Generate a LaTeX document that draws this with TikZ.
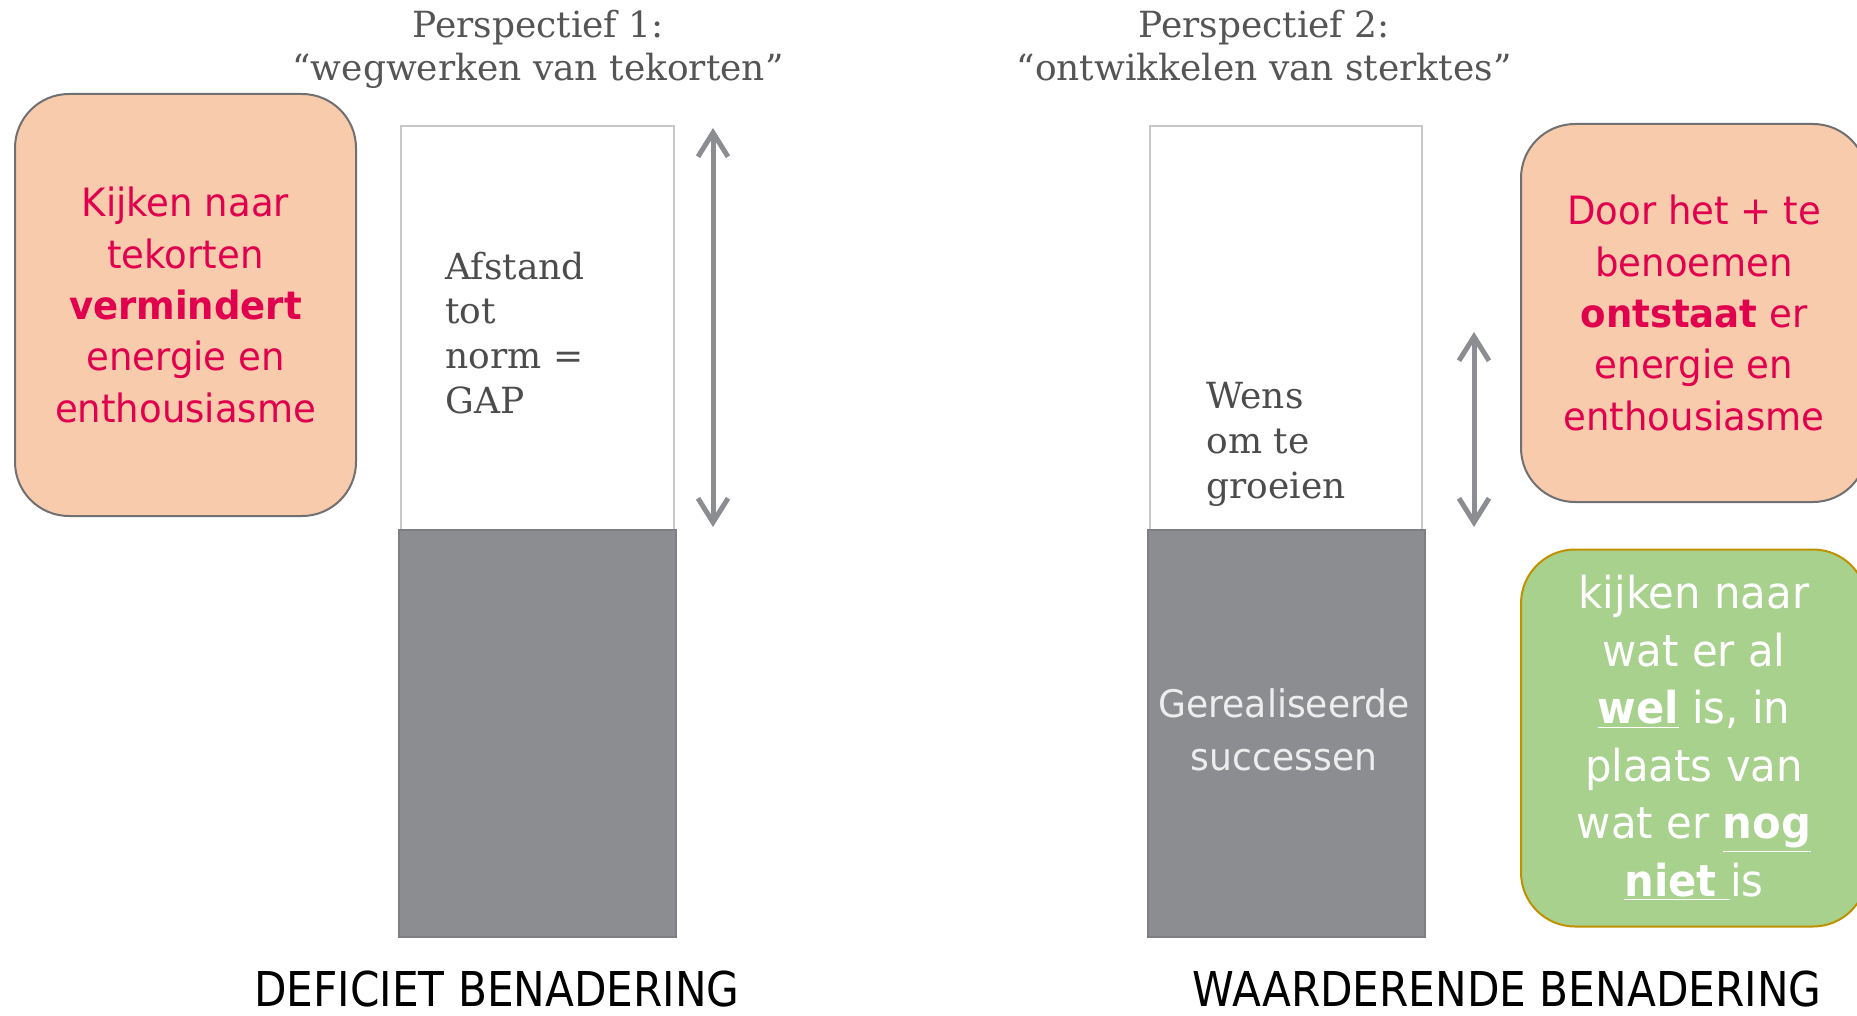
\documentclass[tikz,border=0pt]{standalone}
\usepackage{fontspec}
\usetikzlibrary{arrows.meta}
\newfontfamily\boxfont{DejaVu Sans}[FakeStretch=0.95]
\newfontfamily\labfont{DejaVu Sans}[FakeStretch=0.88]
\newfontfamily\serf{DejaVu Serif}
\definecolor{crim}{RGB}{224,0,77}
\definecolor{peach}{HTML}{F8CBAD}
\definecolor{boxline}{HTML}{707070}
\definecolor{greenfill}{HTML}{A9D18E}
\definecolor{greenline}{HTML}{BF9000}
\definecolor{bargray}{HTML}{8C8D91}
\definecolor{barline}{HTML}{7E7F83}
\definecolor{whiteline}{HTML}{C8C8C8}
\definecolor{titlegray}{HTML}{555555}
\tikzset{
  roundbox/.style={line width=1pt, rounded corners=27pt, align=center, inner sep=0pt},
  pbox/.style={roundbox, draw=boxline, fill=peach, text=crim,
    font=\boxfont\fontsize{19.5}{25.7}\selectfont},
  gbox/.style={roundbox, draw=greenline, fill=greenfill, text=white,
    font=\boxfont\fontsize{22}{28.8}\selectfont},
  whitebar/.style={draw=whiteline, line width=1pt, fill=white, inner sep=0pt},
  graybar/.style={draw=barline, line width=1pt, fill=bargray, inner sep=0pt},
  titletext/.style={text=titlegray, align=center, inner sep=0pt,
    font=\serf\fontsize{18}{21.5}\selectfont},
  bartext/.style={text=titlegray!90!black, align=left, inner sep=0pt,
    font=\serf\fontsize{18}{22.3}\selectfont},
  bottomlabel/.style={text=black, inner sep=0pt,
    font=\labfont\fontsize{24}{28}\selectfont},
  garrow/.style={draw=bargray, line width=2.5pt,
    {Straight Barb[length=12pt,width=15pt]}-{Straight Barb[length=12pt,width=15pt]}}
}
\begin{document}
\begin{tikzpicture}[x=0.5pt,y=-0.5pt]
\clip (0,0) rectangle (1857,1016);
\fill[white] (0,0) rectangle (1857,1016);

% titles (base anchor = baseline of last line)
\node[titletext, anchor=base] (t1) at (538,81) {Perspectief 1:\\“wegwerken van tekorten”};
\node[titletext, anchor=base] (t2) at (1264,81) {Perspectief 2:\\“ontwikkelen van sterktes”};

% left side
\node[pbox, minimum width=170.5pt, minimum height=211pt] (lbox) at (185.5,305)
  {Kijken naar\\tekorten\\\textbf{vermindert}\\energie en\\enthousiasme};
\node[whitebar, minimum width=136.5pt, minimum height=202pt] (wb1) at (537.5,328) {};
\node[graybar, minimum width=138.5pt, minimum height=203.5pt] (gb1) at (537.5,733.5) {};
\node[bartext, anchor=base west] (gap) at (445,413) {Afstand\\tot\\norm =\\GAP};
\coordinate (a1top) at (713,128);
\coordinate (a1bot) at (713,527);
\draw[garrow] (a1top) -- (a1bot);
\node[bottomlabel, anchor=base] (lab1) at (497,1006) {DEFICIET BENADERING};

% right side
\node[whitebar, minimum width=136pt, minimum height=202pt] (wb2) at (1286,328) {};
\node[graybar, minimum width=138.5pt, minimum height=203.5pt] (gb2) at (1286.5,733.5) {};
\node[bartext, anchor=base west] (wens) at (1206,498) {Wens\\om te\\groeien};
\node[text=white!93!black, align=center, inner sep=0pt,
  font=\boxfont\fontsize{19}{26.3}\selectfont, anchor=base] (succ) at (1284,770) {Gerealiseerde\\successen};
\coordinate (a2top) at (1474,332);
\coordinate (a2bot) at (1474,527);
\draw[garrow] (a2top) -- (a2bot);
\node[pbox, minimum width=173pt, minimum height=189pt] (rbox) at (1694,313)
  {Door het + te\\benoemen\\\textbf{ontstaat} er\\energie en\\enthousiasme};
\node[gbox, minimum width=173pt, minimum height=188.5pt] (gbox) at (1694,738)
  {kijken naar\\wat er al\\\underline{\textbf{wel}} is, in\\plaats van\\wat er \underline{\textbf{nog}}\\\underline{\textbf{niet} }is};
\node[bottomlabel, anchor=base] (lab2) at (1507,1006) {WAARDERENDE BENADERING};
\end{tikzpicture}
\end{document}
